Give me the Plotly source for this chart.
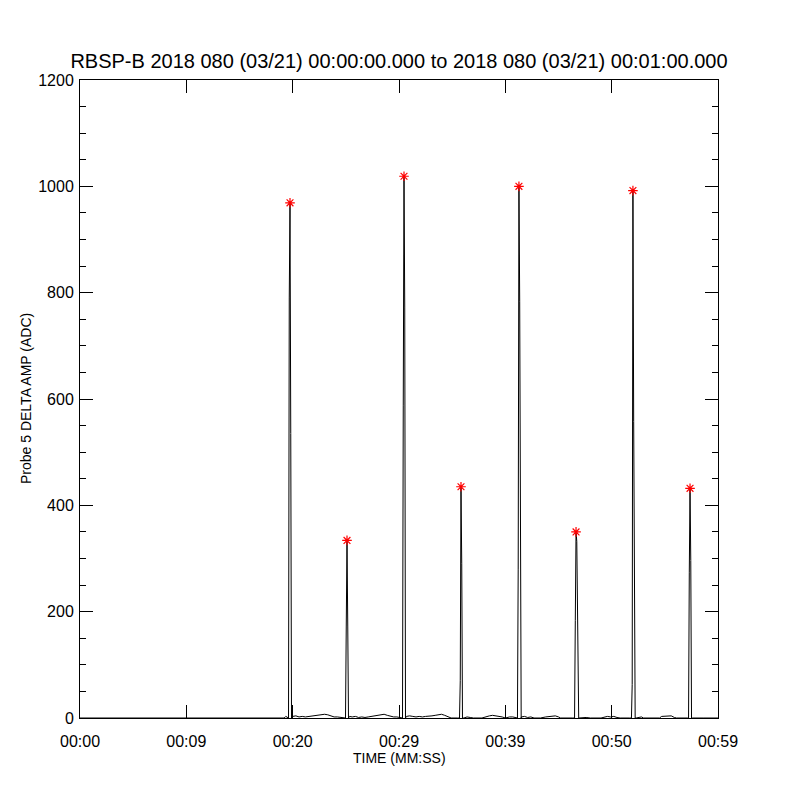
import plotly.graph_objects as go

# ---- data ----
# spike centres (s) and the sampled values of each spike (peak at index 2)
spike_centers = [19.75, 25.11, 30.47, 35.83, 41.28, 46.65, 52.00, 57.37]
spike_values = [
    [0, 790, 969, 535, 0],
    [0, 173, 334, 173, 0],
    [0, 587, 1019, 773, 0],
    [0, 70, 435, 290, 0],
    [0, 280, 1000, 784, 59, 0],
    [0, 183, 350, 332, 183, 0],
    [0, 63, 992, 558, 286, 0],
    [0, 273, 432, 296, 0],
]
spike_peak_index = 2
spike_dt = 0.07

# low-level background between spikes
noise_t = [0.0, 19.2, 19.35, 19.5,
           20.0, 20.3, 20.6, 20.9, 21.2, 21.5, 21.8, 22.1, 22.4, 22.7, 23.0, 23.3, 23.6, 23.9, 24.2, 24.5, 24.8,
           25.35, 25.6, 25.9, 26.2, 26.5, 26.8, 27.1, 27.4, 27.7, 28.0, 28.3, 28.6, 28.9, 29.2, 29.5, 29.8, 30.1,
           30.7, 31.0, 31.3, 31.6, 31.9, 32.2, 32.5, 32.8, 33.1, 33.4, 33.7, 34.0, 34.3, 34.6, 34.9, 35.5,
           36.1, 36.4, 36.7, 37.0, 37.8, 38.2, 38.5, 38.8, 39.1, 39.4, 39.7, 40.0, 40.4, 40.7, 41.0,
           41.5, 41.8, 42.1, 42.4, 42.7, 43.3, 43.8, 44.1, 44.4, 44.7, 45.0, 45.2, 46.3,
           46.9, 47.6, 48.0, 49.0, 49.3, 49.6, 49.9, 50.2, 50.5, 50.8, 51.7,
           52.3, 52.8, 53.0, 54.5, 54.7, 55.0, 55.3, 55.6, 55.9, 56.1, 57.1,
           57.6, 58.5, 58.6, 60.0]
noise_v = [0, 0, 3, 2,
           3, 4, 2, 3, 2, 3, 3, 4, 5, 6, 7, 6, 4, 2, 2, 1, 0,
           3, 2, 3, 1, 2, 1, 2, 3, 4, 5, 6, 7, 5, 3, 2, 2, 1,
           3, 4, 3, 2, 3, 2, 3, 3, 4, 5, 6, 7, 5, 3, 0, 0,
           0, 2, 1, 0, 0, 3, 4, 5, 4, 4, 2, 0, 2, 2, 0,
           2, 3, 1, 2, 0, 0, 2, 3, 3, 4, 2, 0, 0,
           0, 1, 0, 0, 2, 3, 2, 3, 1, 0, 0,
           0, 2, 0, 0, 3, 3, 4, 4, 1, 0, 0,
           0, 1, 0, 0]

x_tickvals = [0, 10, 20, 30, 40, 50, 60]
x_ticktext = ["00:00", "00:09", "00:20", "00:29", "00:39", "00:50", "00:59"]
y_tickvals = [0, 200, 400, 600, 800, 1000, 1200]

title_text = "RBSP-B 2018 080 (03/21) 00:00:00.000 to 2018 080 (03/21) 00:01:00.000"

# ---- build series ----
pts = []
for t, v in zip(noise_t, noise_v):
    if all(abs(t - c) > 0.2 for c in spike_centers):
        pts.append((t, v))
peak_t, peak_v = [], []
for c, vals in zip(spike_centers, spike_values):
    for i, v in enumerate(vals):
        pts.append((c + (i - spike_peak_index) * spike_dt, v))
    peak_t.append(c)
    peak_v.append(vals[spike_peak_index])
pts.sort()
xs = [p[0] for p in pts]
ys = [p[1] for p in pts]

FONT = "Liberation Sans"

fig = go.Figure()
fig.add_trace(go.Scatter(x=xs, y=ys, mode="lines",
                         line=dict(color="black", width=1), showlegend=False))
fig.add_trace(go.Scatter(x=peak_t, y=peak_v, mode="markers",
                         marker=dict(symbol="asterisk-open", size=8, color="red",
                                     line=dict(color="red", width=1.2)),
                         showlegend=False, cliponaxis=False))

axis_common = dict(showline=True, linecolor="black", linewidth=1, mirror="allticks",
                   ticks="inside", ticklen=13, tickwidth=1, tickcolor="black",
                   showgrid=False, zeroline=False,
                   tickfont=dict(family=FONT, size=16, color="black"))

fig.update_xaxes(range=[0, 60], tickmode="array", tickvals=x_tickvals, ticktext=x_ticktext,
                 ticklabelstandoff=9, **axis_common)
fig.update_yaxes(range=[0, 1200], tickmode="array", tickvals=y_tickvals,
                 ticklabelstandoff=2,
                 minor=dict(ticks="inside", ticklen=6, tickwidth=1, tickcolor="black",
                            dtick=50, showgrid=False),
                 **axis_common)

fig.update_layout(
    width=800, height=800,
    margin=dict(l=72, r=90, t=72, b=90),
    paper_bgcolor="white", plot_bgcolor="white",
    title=dict(text=title_text, x=(399 - 8) / 800, xanchor="center", y=1 - 53 / 800,
               yanchor="middle", yref="container",
               font=dict(family=FONT, size=20, color="black")),
    annotations=[
        dict(text="TIME (MM:SS)", xref="paper", yref="paper", x=0.5, y=-40 / 638,
             xanchor="center", yanchor="middle", showarrow=False,
             font=dict(family=FONT, size=14, color="black")),
        dict(text="Probe 5 DELTA AMP (ADC)", xref="paper", yref="paper", x=-54 / 638, y=0.5,
             xanchor="center", yanchor="middle", textangle=-90, showarrow=False,
             font=dict(family=FONT, size=14, color="black")),
    ],
)

fig.write_html("out.html")
